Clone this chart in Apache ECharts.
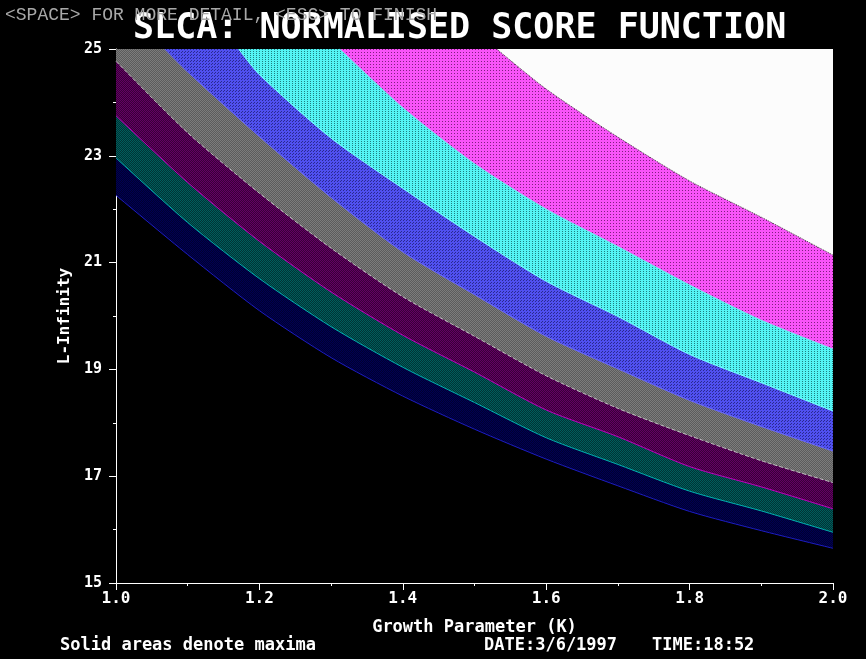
<!DOCTYPE html>
<html>
<head>
<meta charset="utf-8">
<script src="https://cdn.jsdelivr.net/npm/echarts@6/dist/echarts.min.js"></script>
<style>
html,body{margin:0;padding:0;background:#000;}
#chart{width:866px;height:659px;}
</style>
</head>
<body>
<div id="chart"></div>
<script>
// ---------------- data ----------------
const kTicks = [1.0, 1.1, 1.2, 1.3, 1.4, 1.5, 1.6, 1.7, 1.8, 1.9, 2.0];
const xTickLabels = ['1.0', '1.2', '1.4', '1.6', '1.8', '2.0'];
const yTickLabels = ['15', '17', '19', '21', '23', '25'];

// boundary edges, lowest first: [K, L-Infinity]
const edgeDarkBlue = [[1.0,22.26],[1.1,21.15],[1.2,20.1],[1.3,19.22],[1.4,18.5],[1.5,17.88],[1.6,17.32],[1.7,16.82],[1.8,16.34],[1.9,15.98],[2.0,15.65]];
const edgeTeal     = [[1.0,22.96],[1.1,21.75],[1.2,20.7],[1.3,19.8],[1.4,19.04],[1.5,18.38],[1.6,17.72],[1.7,17.22],[1.8,16.72],[1.9,16.35],[2.0,15.95]];
const edgePurple   = [[1.0,23.75],[1.1,22.5],[1.2,21.4],[1.3,20.45],[1.4,19.64],[1.5,18.95],[1.6,18.24],[1.7,17.74],[1.8,17.18],[1.9,16.8],[2.0,16.39]];
const edgeGray     = [[1.0,24.77],[1.1,23.43],[1.2,22.3],[1.3,21.27],[1.4,20.36],[1.5,19.62],[1.6,18.88],[1.7,18.27],[1.8,17.76],[1.9,17.29],[2.0,16.88]];
const edgeBlue     = [[1.068,25],[1.1,24.57],[1.2,23.36],[1.3,22.22],[1.4,21.2],[1.5,20.4],[1.6,19.62],[1.7,19.01],[1.8,18.42],[1.9,17.93],[2.0,17.47]];
const edgeCyan     = [[1.171,25],[1.2,24.52],[1.3,23.33],[1.4,22.39],[1.5,21.49],[1.6,20.65],[1.7,19.99],[1.8,19.28],[1.9,18.75],[2.0,18.22]];
const edgeMagenta  = [[1.312,25],[1.4,23.9],[1.5,22.85],[1.6,22.0],[1.7,21.3],[1.8,20.58],[1.9,19.92],[2.0,19.38]];
const edgeWhite    = [[1.531,25],[1.6,24.25],[1.7,23.35],[1.8,22.53],[1.9,21.85],[2.0,21.14]];

// ---------------- styles ----------------
function tile(cells) {
  const h = cells.length, w = cells[0].length;
  const c = document.createElement('canvas');
  c.width = w; c.height = h;
  const g = c.getContext('2d');
  for (let y = 0; y < h; y++) for (let x = 0; x < w; x++) {
    g.fillStyle = cells[y][x];
    g.fillRect(x, y, 1, 1);
  }
  return { image: c, repeat: 'repeat' };
}
const K = '#000000';
const fills = {
  darkBlue: tile([['#000052', '#000030'], ['#000030', '#000052']]),
  teal:     tile([['#005c5c', '#003434'], ['#003434', '#005c5c']]),
  purple:   tile([['#640064', '#380038'], ['#380038', '#640064']]),
  gray:     tile([['#7c7c7c', '#5c5c5c'], ['#5c5c5c', '#7c7c7c']]),
  blue:     tile([['#5050f0', '#5050f0', '#2a2a90'], ['#5050f0', '#2a2a90', '#5050f0'], ['#5050f0', '#5050f0', '#5050f0']]),
  cyan:     tile([['#54f4f4', '#54f4f4', '#54f4f4'], ['#54f4f4', '#208080', '#54f4f4']]),
  magenta:  tile([['#f854f8', '#f854f8', '#f854f8'], ['#f854f8', '#802080', '#f854f8'], ['#f854f8', '#f854f8', '#f854f8']]),
  white:    '#fcfcfc'
};

const layers = [
  { name: 'darkBlue', data: edgeDarkBlue, fill: fills.darkBlue, line: '#1c1cc0', type: 'solid' },
  { name: 'teal',     data: edgeTeal,     fill: fills.teal,     line: '#00b0b0', type: 'solid' },
  { name: 'purple',   data: edgePurple,   fill: fills.purple,   line: '#c000c0', type: 'solid' },
  { name: 'gray',     data: edgeGray,     fill: fills.gray,     line: '#c0c0c0', type: 'dashed' },
  { name: 'blue',     data: edgeBlue,     fill: fills.blue,     line: '#6a6aff', type: 'solid' },
  { name: 'cyan',     data: edgeCyan,     fill: fills.cyan,     line: '#7affff', type: 'solid' },
  { name: 'magenta',  data: edgeMagenta,  fill: fills.magenta,  line: '#70f0f0', type: 'solid' },
  { name: 'white',    data: edgeWhite,    fill: fills.white,    line: '#404040', type: 'dotted' }
];

const FONT = '"DejaVu Sans Mono", monospace';

const chart = echarts.init(document.getElementById('chart'), null, { renderer: 'canvas' });
chart.setOption({
  backgroundColor: '#000000',
  animation: false,
  grid: { left: 116, right: 33, top: 49, bottom: 76, containLabel: false },
  xAxis: {
    type: 'value', min: 1.0, max: 2.0, interval: 0.2,
    name: 'Growth Parameter (K)', nameLocation: 'middle', nameGap: 36,
    nameTextStyle: { color: '#ffffff', fontFamily: FONT, fontWeight: 'bold', fontSize: 17 },
    axisLine: { show: true, lineStyle: { color: '#ffffff', width: 1 } },
    axisTick: { show: true, length: 7, lineStyle: { color: '#ffffff' } },
    minorTick: { show: true, splitNumber: 2, length: 3, lineStyle: { color: '#ffffff' } },
    splitLine: { show: false },
    axisLabel: { color: '#ffffff', fontFamily: FONT, fontWeight: 'bold', fontSize: 16, margin: 8,
      formatter: v => xTickLabels.find(t => Math.abs(parseFloat(t) - v) < 1e-6) || '' }
  },
  yAxis: {
    type: 'value', min: 15, max: 25, interval: 2,
    name: 'L-Infinity', nameLocation: 'middle', nameGap: 40,
    nameTextStyle: { color: '#ffffff', fontFamily: FONT, fontWeight: 'bold', fontSize: 16 },
    axisLine: { show: true, lineStyle: { color: '#ffffff', width: 1 } },
    axisTick: { show: true, length: 7, lineStyle: { color: '#ffffff' } },
    minorTick: { show: true, splitNumber: 2, length: 3, lineStyle: { color: '#ffffff' } },
    splitLine: { show: false },
    axisLabel: { color: '#ffffff', fontFamily: FONT, fontWeight: 'bold', fontSize: 15, margin: 14,
      formatter: v => yTickLabels.find(t => parseFloat(t) === v) || '' }
  },
  series: layers.map((l, i) => ({
    name: l.name,
    type: 'line',
    data: l.data,
    symbol: 'none',
    smooth: 0.25,
    z: 2 + i,
    clip: true,
    lineStyle: { color: l.line, width: 1, type: l.type },
    areaStyle: { color: l.fill, opacity: 1, origin: 'end' },
    emphasis: { disabled: true },
    silent: true
  })),
  graphic: [
    { type: 'text', z: 10, style: { x: 133, y: 29, text: 'SLCA: NORMALISED SCORE FUNCTION', fill: '#ffffff',
        font: 'bold 35px ' + FONT, textAlign: 'left', textVerticalAlign: 'middle' } },
    { type: 'text', z: 11, style: { x: 5, y: 15, text: '<SPACE> FOR MORE DETAIL, <ESC> TO FINISH', fill: '#a8a8a8',
        font: '18px "Liberation Mono", monospace', textAlign: 'left', textVerticalAlign: 'middle' } },
    { type: 'text', z: 10, style: { x: 60, y: 646, text: 'Solid areas denote maxima', fill: '#ffffff',
        font: 'bold 17px ' + FONT, textAlign: 'left', textVerticalAlign: 'middle' } },
    { type: 'text', z: 10, style: { x: 484, y: 646, text: 'DATE:3/6/1997', fill: '#ffffff',
        font: 'bold 17px ' + FONT, textAlign: 'left', textVerticalAlign: 'middle' } },
    { type: 'text', z: 10, style: { x: 652, y: 646, text: 'TIME:18:52', fill: '#ffffff',
        font: 'bold 17px ' + FONT, textAlign: 'left', textVerticalAlign: 'middle' } }
  ]
});
</script>
</body>
</html>
